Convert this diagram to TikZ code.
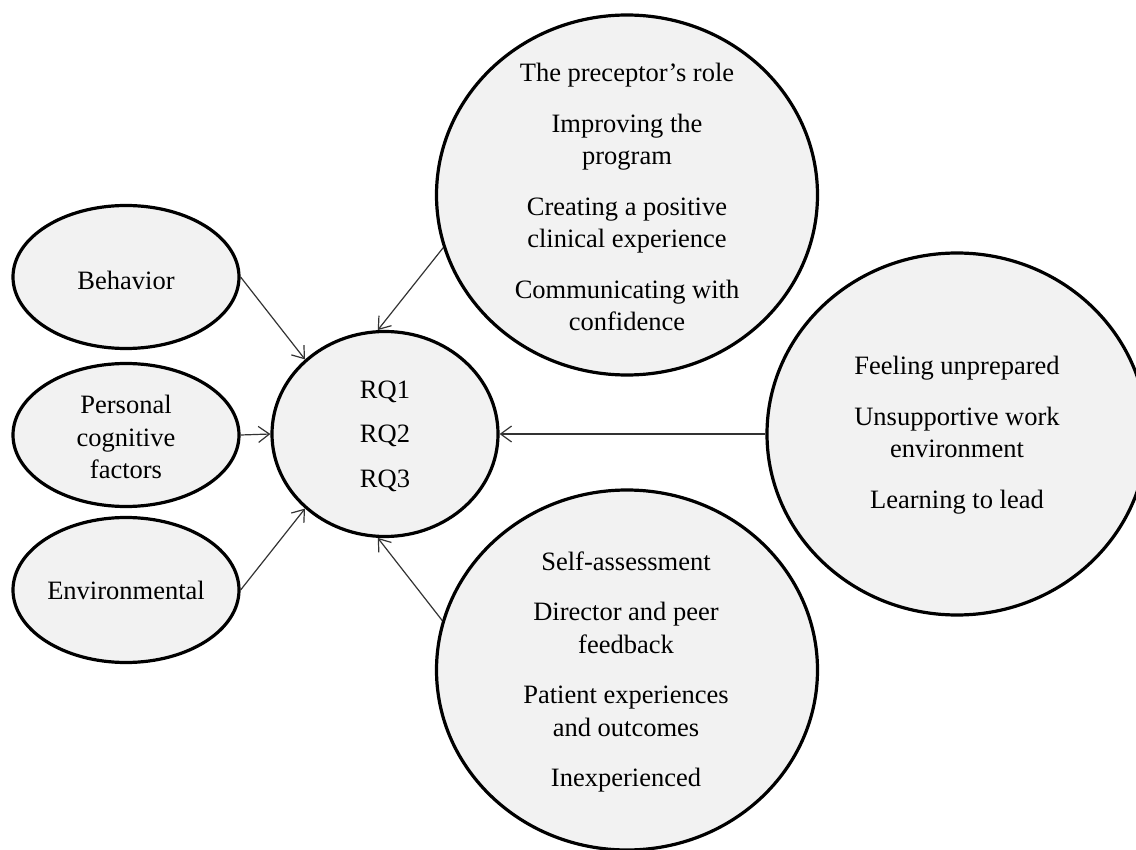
\documentclass[tikz,border=0pt]{standalone}
\usepackage{fontspec}
\setmainfont{Liberation Serif}
\usetikzlibrary{shapes.geometric,arrows.meta}
\tikzset{
  bubble/.style={ellipse, draw=black, line width=3.2pt, fill=black!5, inner sep=0pt},
  txt/.style={align=center, font=\fontsize{26.5}{32.5}\selectfont, inner sep=0pt},
  link/.style={draw=black!80, line width=1.2pt, -{Straight Barb[length=11pt,width=16pt,line width=1.2pt]}},
}
\begin{document}
\begin{tikzpicture}[x=1pt,y=-1pt]
\useasboundingbox (0,0) rectangle (1136,850);
\begin{scope}
\clip (0,0) rectangle (1136,850);
% left ellipses
\node[bubble, minimum width=226pt, minimum height=143pt] (beh) at (126,277) {};
\node[txt] (behT) at (126,280) {Behavior};
\node[bubble, minimum width=226pt, minimum height=143pt] (pcf) at (126,435) {};
\node[txt] (pcfT) at (126,437) {Personal\\cognitive\\factors};
\node[bubble, minimum width=226pt, minimum height=145pt] (env) at (126,590) {};
\node[txt] (envT) at (126,590) {Environmental};
% central
\node[bubble, minimum width=226pt, minimum height=205pt] (rq) at (385,434) {};
\node[txt] (rqT) at (385,436) {RQ1\\[12pt]RQ2\\[12pt]RQ3};
% top
\node[bubble, minimum width=381pt, minimum height=360pt] (top) at (627,195) {};
\node[txt] (topT) at (627,197) {The preceptor’s role\\[18pt]Improving the\\program\\[18pt]Creating a positive\\clinical experience\\[18pt]Communicating with\\confidence};
% right
\node[bubble, minimum width=380pt, minimum height=362pt] (rgt) at (957,434) {};
\node[txt] (rgtT) at (957,435) {Feeling unprepared\\[18pt]Unsupportive work\\environment\\[18pt]Learning to lead};
% bottom
\node[bubble, minimum width=381pt, minimum height=360pt] (bot) at (627,670) {};
\node[txt] (botT) at (626,672) {Self-assessment\\[18pt]Director and peer\\feedback\\[18pt]Patient experiences\\and outcomes\\[18pt]Inexperienced};
\end{scope}
% connectors
\draw[link] (beh.east) -- (rq.137);
\draw[link] (pcf.east) -- (rq.west);
\draw[link] (env.east) -- (rq.223);
\draw[link] (top.196) -- (rq.94);
\draw[link] (rgt.west) -- (rq.east);
\draw[link] (bot.165) -- (rq.266);
\end{tikzpicture}
\end{document}
